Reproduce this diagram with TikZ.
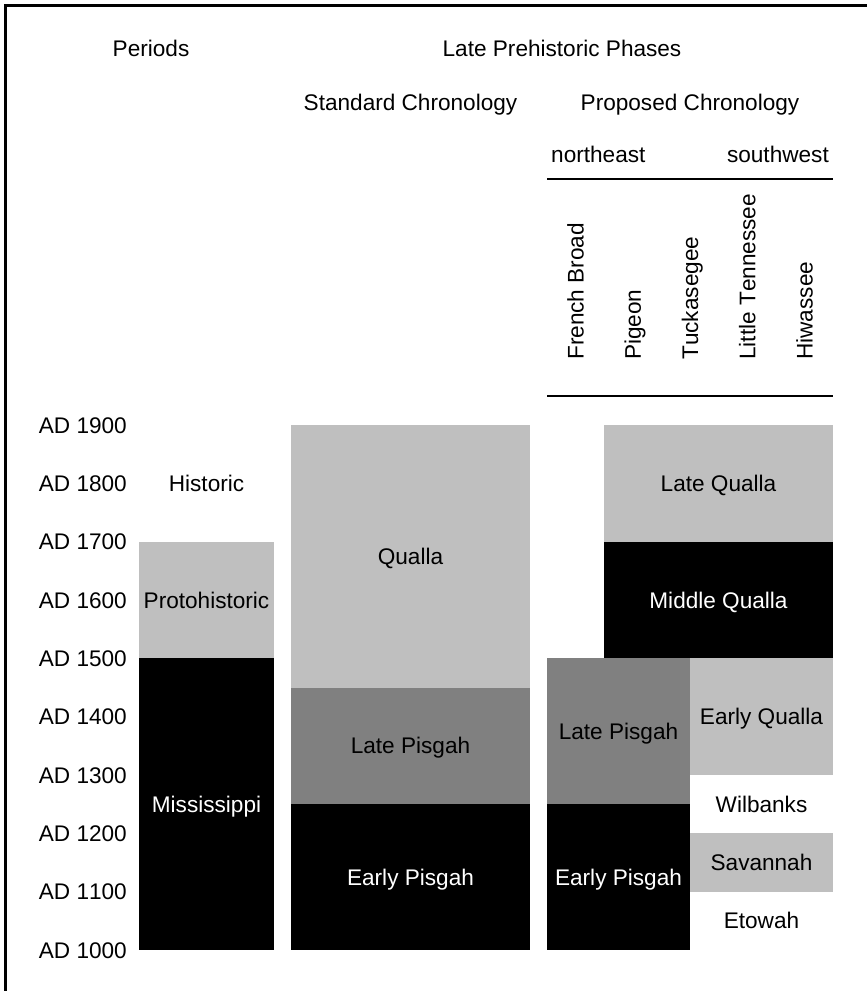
\documentclass[tikz,border=0pt]{standalone}
\usepackage{fontspec}
\setmainfont{Liberation Sans}[Kerning=Off]
\definecolor{lightband}{gray}{0.75}
\definecolor{midband}{gray}{0.5}

\begin{document}
\begin{tikzpicture}[x=1pt,y=1pt,font=\fontsize{22.6pt}{27pt}\selectfont,
  lbl/.style={inner sep=0pt,text height=16.2pt,text depth=0pt},
  hdr/.style={inner sep=0pt,anchor=base},
  rule/.style={line width=2pt}]
\useasboundingbox (0,0) rectangle (867,991);
\draw[line width=3pt] (5.5,0) -- (5.5,985.5) -- (867,985.5);

% headings
\node[hdr] (periods) at (151,934) {Periods};
\node[hdr] (phases) at (562,934) {Late Prehistoric Phases};
\node[hdr] (standard) at (410.5,880) {Standard Chronology};
\node[hdr] (proposed) at (690,880) {Proposed Chronology};
\node[hdr,anchor=base west] (ne) at (551,828) {northeast};
\node[hdr,anchor=base east] (sw) at (829,828) {southwest};
\draw[rule] (547,812) -- (833,812);

% drainages
\node[lbl,rotate=90,anchor=west] (frbroad) at (575.6,631) {French Broad};
\node[lbl,rotate=90,anchor=west] (pigeon) at (632.8,631) {Pigeon};
\node[lbl,rotate=90,anchor=west] (tuck) at (690,631) {Tuckasegee};
\node[lbl,rotate=90,anchor=west] (littletn) at (747.2,631) {Little Tennessee};
\node[lbl,rotate=90,anchor=west] (hiwassee) at (804.4,631) {Hiwassee};
\draw[rule] (547,595) -- (833,595);

% time axis: y given in years
\begin{scope}[shift={(0,-542.33)},y=0.58333pt]
\foreach \yr in {1000,1100,...,1900}
  \node[lbl,anchor=east] (ad\yr) at (127,\yr) {AD \yr};

% periods
\fill[lightband] (139,1500) rectangle (274,1700);
\fill (139,1000) rectangle (274,1500);
\node[lbl] (historic) at (206.5,1800) {Historic};
\node[lbl] (protohist) at (206.5,1600) {Protohistoric};
\node[lbl,white] (mississippi) at (206.5,1250) {Mississippi};

% standard chronology
\fill[lightband] (291,1450) rectangle (530,1900);
\fill[midband] (291,1250) rectangle (530,1450);
\fill (291,1000) rectangle (530,1250);
\node[lbl] (qualla) at (410.5,1675) {Qualla};
\node[lbl] (latepisgah) at (410.5,1350) {Late Pisgah};
\node[lbl,white] (earlypisgah) at (410.5,1125) {Early Pisgah};

% proposed chronology
\fill[lightband] (604,1700) rectangle (833,1900);
\fill (604,1500) rectangle (833,1700);
\fill[midband] (547,1250) rectangle (690,1500);
\fill (547,1000) rectangle (690,1250);
\fill[lightband] (690,1300) rectangle (833,1500);
\fill[lightband] (690,1100) rectangle (833,1200);
\node[lbl] (latequalla) at (718.5,1800) {Late Qualla};
\node[lbl,white] (midqualla) at (718.5,1600) {Middle Qualla};
\node[lbl] (latepisgahp) at (618.5,1375) {Late Pisgah};
\node[lbl,white] (earlypisgahp) at (618.5,1125) {Early Pisgah};
\node[lbl] (earlyqualla) at (761.5,1400) {Early Qualla};
\node[lbl] (wilbanks) at (761.5,1250) {Wilbanks};
\node[lbl] (savannah) at (761.5,1150) {Savannah};
\node[lbl] (etowah) at (761.5,1050) {Etowah};
\end{scope}
\end{tikzpicture}
\end{document}
